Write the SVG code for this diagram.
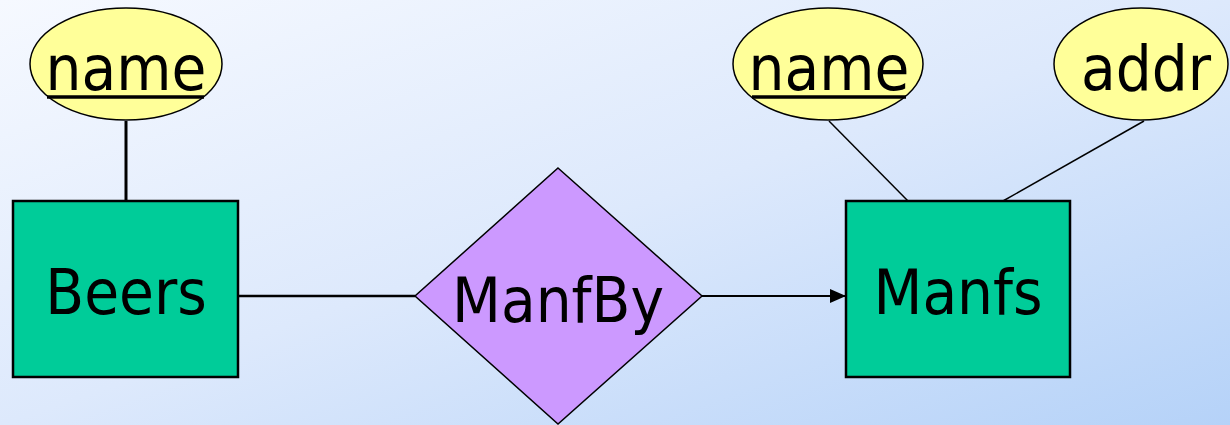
<svg xmlns="http://www.w3.org/2000/svg" width="1230" height="425" viewBox="0 0 1230 425">
<defs>
<linearGradient id="bg" x1="0" y1="0" x2="1" y2="1">
<stop offset="0" stop-color="#f6f9ff"/>
<stop offset="0.5" stop-color="#dde9fc"/>
<stop offset="1" stop-color="#b5d2f8"/>
</linearGradient>
<marker id="arr" viewBox="0 0 16 14" refX="16" refY="7" markerWidth="16" markerHeight="14" markerUnits="userSpaceOnUse" orient="auto">
<path d="M0,0 L16,7 L0,14 Z" fill="#000"/>
</marker>
<style>
.ent{fill:#00cc99;stroke:#000;stroke-width:2.5}
.att{fill:#ffff99;stroke:#000;stroke-width:1.5}
.rel{fill:#cc99ff;stroke:#000;stroke-width:1.5}
.t{font-family:"DejaVu Sans Condensed","DejaVu Sans",sans-serif;font-size:63px;fill:#000;text-anchor:middle}
.ln{stroke:#000;fill:none}
</style>
</defs>
<rect width="1230" height="425" fill="url(#bg)"/>
<g id="connectors">
<line class="ln" x1="126" y1="121" x2="126" y2="201" stroke-width="3"/>
<line class="ln" x1="829" y1="121" x2="908" y2="201" stroke-width="1.5"/>
<line class="ln" x1="1144" y1="121" x2="1003" y2="201" stroke-width="1.5"/>
<line class="ln" x1="238" y1="296" x2="415" y2="296" stroke-width="2.5"/>
<line class="ln" x1="702" y1="296" x2="846" y2="296" stroke-width="1.8" marker-end="url(#arr)"/>
</g>
<g id="beers-name">
<ellipse class="att" cx="126" cy="64" rx="96" ry="56"/>
<text class="t" x="126" y="90">name</text>
<line x1="47" y1="97" x2="204" y2="97" stroke="#000" stroke-width="3.5"/>
</g>
<g id="manfs-name">
<ellipse class="att" cx="828" cy="64" rx="95" ry="56"/>
<text class="t" x="829" y="90">name</text>
<line x1="752" y1="97" x2="906" y2="97" stroke="#000" stroke-width="3.5"/>
</g>
<g id="manfs-addr">
<ellipse class="att" cx="1141" cy="64" rx="87" ry="56"/>
<text class="t" x="1146" y="90">addr</text>
</g>
<g id="beers">
<rect class="ent" x="13" y="201" width="225" height="176"/>
<text class="t" x="126" y="314">Beers</text>
</g>
<g id="manfby">
<polygon class="rel" points="558,168 702,296 558,424 415,296"/>
<text class="t" x="558" y="322">ManfBy</text>
</g>
<g id="manfs">
<rect class="ent" x="846" y="201" width="224" height="176"/>
<text class="t" x="958" y="314">Manfs</text>
</g>
</svg>
